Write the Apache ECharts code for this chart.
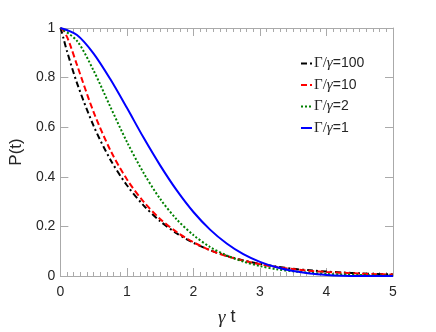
<!DOCTYPE html>
<html>
<head>
<meta charset="utf-8">
<script src="https://cdn.jsdelivr.net/npm/echarts@6/dist/echarts.min.js"></script>
<style>
  html, body { margin: 0; padding: 0; background: #fff; }
  #main { width: 436px; height: 332px; }
</style>
</head>
<body>
<div id="main"></div>
<script>
// time points (gamma t)
var tBlack = [0, 0.02, 0.05, 0.1, 0.25, 0.5, 0.75, 1, 1.25, 1.5, 1.75, 2, 2.25, 2.5, 2.75, 3, 3.25, 3.5, 3.75, 4, 4.25, 4.5, 4.75, 5];
var pBlack = [1, 0.985, 0.955, 0.906, 0.778, 0.605, 0.470, 0.366, 0.285, 0.221, 0.172, 0.134, 0.104, 0.081, 0.063, 0.049, 0.038, 0.029, 0.023, 0.018, 0.014, 0.011, 0.008, 0.0065];

var tRed = [0, 0.05, 0.1, 0.15, 0.25, 0.5, 0.75, 1, 1.25, 1.5, 1.75, 2, 2.25, 2.5, 2.75, 3, 3.25, 3.5, 3.75, 4, 4.25, 4.5, 4.75, 5];
var pRed = [1, 0.989, 0.964, 0.930, 0.851, 0.661, 0.508, 0.390, 0.300, 0.230, 0.177, 0.136, 0.104, 0.080, 0.062, 0.047, 0.036, 0.028, 0.021, 0.016, 0.013, 0.0097, 0.0074, 0.0057];

var tSmooth = [0, 0.25, 0.5, 0.75, 1, 1.25, 1.5, 1.75, 2, 2.25, 2.5, 2.75, 3, 3.25, 3.5, 3.75, 4, 4.25, 4.5, 4.75, 5];
var pGreen = [1, 0.948, 0.828, 0.683, 0.541, 0.416, 0.311, 0.228, 0.165, 0.117, 0.083, 0.058, 0.040, 0.027, 0.019, 0.013, 0.008, 0.006, 0.004, 0.0025, 0.0016];
var pBlue = [1, 0.972, 0.897, 0.794, 0.678, 0.558, 0.446, 0.345, 0.258, 0.187, 0.131, 0.088, 0.057, 0.035, 0.020, 0.010, 0.0045, 0.0015, 0.0003, 0, 0.0003];

var seriesNames = ['Γ/γ=100', 'Γ/γ=10', 'Γ/γ=2', 'Γ/γ=1'];

function pairs(xs, ys) {
    return xs.map(function (x, i) { return [x, ys[i]]; });
}

var myChart = echarts.init(document.getElementById('main'));

var axisGray = '#aaaaaa';
var textDark = '#262626';

option = {
    animation: false,
    backgroundColor: '#fff',
    grid: {
        left: 57,
        right: 43,
        top: 28,
        bottom: 54
    },
    legend: {
        data: seriesNames,
        orient: 'vertical',
        left: 295,
        top: 51,
        itemWidth: 11,
        itemHeight: 8,
        itemGap: 6.5,
        itemStyle: { opacity: 0 },
        formatter: function (name) {
            var rest = name.split('=')[1];
            return '{s|Γ/}{g|γ}{n|=' + rest + '}';
        },
        textStyle: {
            padding: [0, 0, 0, -3],
            rich: {
                s: { fontFamily: 'Liberation Serif', fontSize: 15, color: textDark },
                g: { fontFamily: 'Liberation Serif', fontStyle: 'italic', fontSize: 15, color: textDark },
                n: { fontFamily: 'Liberation Sans', fontSize: 14, color: textDark }
            }
        }
    },
    xAxis: [
        {
            type: 'value',
            min: 0,
            max: 5,
            interval: 1,
            name: '{g|γ}{t| t}',
            nameLocation: 'middle',
            nameGap: 32,
            nameTextStyle: {
                rich: {
                    g: { fontFamily: 'Liberation Serif', fontStyle: 'italic', fontSize: 19, color: textDark },
                    t: { fontFamily: 'Liberation Sans', fontSize: 18, color: textDark }
                }
            },
            axisLine: { onZero: false, lineStyle: { color: axisGray } },
            axisTick: { inside: true, length: 8, lineStyle: { color: axisGray } },
            minorTick: { show: true, splitNumber: 10, length: 4, lineStyle: { color: axisGray } },
            axisLabel: { fontFamily: 'Liberation Sans', fontSize: 14, color: textDark, margin: 9 },
            splitLine: { show: false }
        },
        {
            type: 'value',
            position: 'top',
            min: 0,
            max: 5,
            interval: 1,
            axisLine: { show: true, onZero: false, lineStyle: { color: axisGray } },
            axisTick: { show: true, inside: true, length: 8, lineStyle: { color: axisGray } },
            minorTick: { show: true, splitNumber: 10, length: 4, lineStyle: { color: axisGray } },
            axisLabel: { show: false },
            splitLine: { show: false }
        }
    ],
    yAxis: [
        {
            type: 'value',
            min: 0,
            max: 1,
            interval: 0.2,
            name: 'P(t)',
            nameLocation: 'middle',
            nameGap: 27,
            nameRotate: 90,
            nameTextStyle: { fontFamily: 'Liberation Sans', fontSize: 17, color: textDark },
            axisLine: { show: true, onZero: false, lineStyle: { color: axisGray } },
            axisTick: { show: true, inside: true, length: 8, lineStyle: { color: axisGray } },
            axisLabel: {
                fontFamily: 'Liberation Sans', fontSize: 14, color: textDark, margin: 5,
                formatter: function (v) { return String(+v.toFixed(1)); }
            },
            splitLine: { show: false }
        },
        {
            type: 'value',
            position: 'right',
            min: 0,
            max: 1,
            interval: 0.2,
            axisLine: { show: true, onZero: false, lineStyle: { color: axisGray } },
            axisTick: { show: true, inside: true, length: 8, lineStyle: { color: axisGray } },
            axisLabel: { show: false },
            splitLine: { show: false }
        }
    ],
    series: [
        {
            name: seriesNames[0],
            type: 'line',
            smooth: 0.3,
            showSymbol: false,
            symbol: 'none',
            color: '#000000',
            lineStyle: { width: 2, type: [6, 3, 2, 3] },
            data: pairs(tBlack, pBlack)
        },
        {
            name: seriesNames[1],
            type: 'line',
            smooth: 0.3,
            showSymbol: false,
            symbol: 'none',
            color: '#ff0000',
            lineStyle: { width: 2, type: [6, 3] },
            data: pairs(tRed, pRed)
        },
        {
            name: seriesNames[2],
            type: 'line',
            smooth: 0.3,
            showSymbol: false,
            symbol: 'none',
            color: '#008000',
            lineStyle: { width: 2, type: [2, 2] },
            data: pairs(tSmooth, pGreen)
        },
        {
            name: seriesNames[3],
            type: 'line',
            smooth: 0.3,
            showSymbol: false,
            symbol: 'none',
            color: '#0000ff',
            lineStyle: { width: 2, type: 'solid' },
            data: pairs(tSmooth, pBlue)
        }
    ]
};

myChart.setOption(option);
</script>
</body>
</html>
